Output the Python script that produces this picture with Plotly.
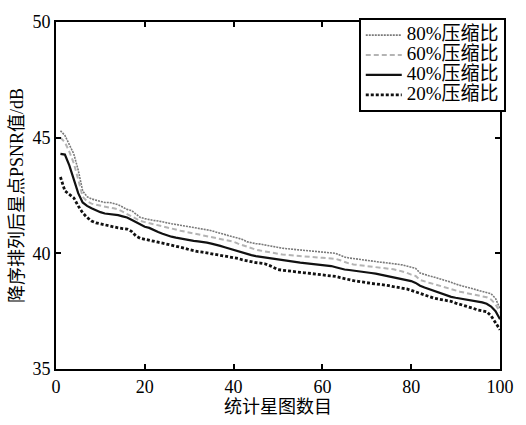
import plotly.graph_objects as go

# Star-map index (sorted in descending PSNR order)
star_idx = list(range(1, 101))

# Star-point PSNR (dB) for each compression ratio
psnr_80 = [45.3, 45.1, 44.7, 44.3, 43.6, 42.7, 42.45, 42.35, 42.3, 42.25,
           42.2, 42.2, 42.15, 42.1, 42.0, 41.9, 41.85, 41.7, 41.55, 41.5,
           41.45, 41.42, 41.4, 41.35, 41.3, 41.28, 41.25, 41.2, 41.18, 41.15,
           41.12, 41.1, 41.05, 41.02, 40.98, 40.92, 40.87, 40.82, 40.78, 40.72,
           40.66, 40.6, 40.5, 40.45, 40.42, 40.4, 40.36, 40.32, 40.28, 40.25,
           40.22, 40.2, 40.18, 40.16, 40.14, 40.12, 40.1, 40.08, 40.06, 40.05,
           40.03, 40.02, 40.0, 39.92, 39.84, 39.8, 39.77, 39.74, 39.72, 39.7,
           39.68, 39.65, 39.62, 39.6, 39.58, 39.56, 39.53, 39.5, 39.45, 39.4,
           39.35, 39.15, 39.08, 39.03, 38.98, 38.93, 38.88, 38.82, 38.75, 38.67,
           38.62, 38.57, 38.53, 38.48, 38.43, 38.38, 38.33, 38.25, 38.05, 37.6]

psnr_60 = [45.0, 44.8, 44.4, 43.9, 43.2, 42.45, 42.25, 42.15, 42.1, 42.05,
           42.0, 41.98, 41.95, 41.9, 41.8, 41.7, 41.62, 41.5, 41.4, 41.35,
           41.3, 41.25, 41.2, 41.15, 41.1, 41.06, 41.02, 40.98, 40.94, 40.9,
           40.86, 40.8, 40.76, 40.72, 40.68, 40.65, 40.62, 40.58, 40.55, 40.5,
           40.42, 40.35, 40.28, 40.2, 40.16, 40.12, 40.08, 40.04, 40.0, 39.97,
           39.95, 39.93, 39.91, 39.89, 39.87, 39.85, 39.84, 39.83, 39.82, 39.81,
           39.8, 39.78, 39.76, 39.7, 39.62, 39.56, 39.52, 39.5, 39.48, 39.46,
           39.44, 39.42, 39.4, 39.37, 39.34, 39.31, 39.27, 39.23, 39.16, 39.08,
           39.02, 38.85, 38.78, 38.73, 38.68, 38.62, 38.56, 38.5, 38.43, 38.38,
           38.34, 38.3, 38.26, 38.22, 38.18, 38.14, 38.1, 38.0, 37.8, 37.45]

psnr_40 = [44.3, 44.27, 43.8, 43.2, 42.6, 42.2, 42.05, 41.95, 41.85, 41.78,
           41.72, 41.7, 41.68, 41.65, 41.6, 41.55, 41.45, 41.35, 41.25, 41.15,
           41.1, 41.0, 40.92, 40.85, 40.78, 40.72, 40.68, 40.64, 40.6, 40.57,
           40.54, 40.52, 40.5, 40.46, 40.42, 40.38, 40.32, 40.26, 40.2, 40.15,
           40.1, 40.05, 39.98, 39.92, 39.88, 39.85, 39.82, 39.78, 39.75, 39.72,
           39.69, 39.66, 39.64, 39.62, 39.6, 39.58, 39.56, 39.54, 39.52, 39.5,
           39.48, 39.45, 39.4, 39.34, 39.3, 39.28, 39.26, 39.24, 39.2, 39.17,
           39.15, 39.12, 39.08, 39.04, 39.0, 38.96, 38.93, 38.9, 38.86, 38.8,
           38.72, 38.6, 38.52, 38.45, 38.38, 38.3, 38.23, 38.17, 38.12, 38.08,
           38.05, 38.02, 37.98, 37.95, 37.92, 37.88, 37.82, 37.7, 37.5, 37.15]

psnr_20 = [43.3, 42.7, 42.55, 42.4, 42.05, 41.75, 41.55, 41.4, 41.32, 41.27,
           41.22, 41.2, 41.15, 41.1, 41.07, 41.05, 40.95, 40.75, 40.65, 40.6,
           40.56, 40.52, 40.48, 40.44, 40.4, 40.35, 40.3, 40.26, 40.22, 40.16,
           40.1, 40.07, 40.05, 40.02, 39.98, 39.95, 39.92, 39.89, 39.86, 39.82,
           39.78, 39.72, 39.67, 39.62, 39.6, 39.58, 39.55, 39.48, 39.38, 39.3,
           39.27, 39.24, 39.22, 39.2, 39.18, 39.16, 39.14, 39.12, 39.1, 39.09,
           39.07, 39.04, 39.0, 38.95, 38.9, 38.86, 38.82, 38.79, 38.75, 38.72,
           38.7, 38.68, 38.66, 38.64, 38.6, 38.56, 38.53, 38.5, 38.46, 38.4,
           38.33, 38.25, 38.18, 38.12, 38.07, 38.03, 38.0, 37.98, 37.92, 37.85,
           37.8, 37.75, 37.7, 37.62, 37.55, 37.5, 37.48, 37.3, 37.0, 36.7]

series_names = ["80%压缩比", "60%压缩比", "40%压缩比", "20%压缩比"]
x_ticks = [0, 20, 40, 60, 80, 100]
y_ticks = [35, 40, 45, 50]

FONT = "'Liberation Serif', 'Times New Roman', 'Noto Sans CJK SC', serif"

styles = [
    dict(color="#7a7a7a", width=1.6, dash="2px,1px"),
    dict(color="#b4b4b4", width=2.0, dash="5px,3px"),
    dict(color="#111111", width=2.2, dash="solid"),
    dict(color="#111111", width=2.8, dash="3px,2px"),
]

fig = go.Figure()
for name, ys, st in zip(series_names, [psnr_80, psnr_60, psnr_40, psnr_20], styles):
    # legend rows are tightly packed, with a larger label inside each row
    fig.add_trace(go.Scatter(
        x=star_idx, y=ys, mode="lines", line=st,
        name=f'<span style="font-size:19px">{name}</span>'))

axis_common = dict(
    showline=True, linecolor="black", linewidth=2, mirror="ticks",
    ticks="inside", ticklen=5, tickwidth=2, tickcolor="black",
    showgrid=False, zeroline=False,
    tickfont=dict(family=FONT, size=18, color="black"),
)

fig.update_xaxes(range=[0, 100], tickvals=x_ticks,
                 title=dict(text="统计星图数目", standoff=4,
                            font=dict(family=FONT, size=18, color="black")),
                 **axis_common)
fig.update_yaxes(range=[35, 50], tickvals=y_ticks,
                 title=dict(text="降序排列后星点PSNR值/dB", standoff=4,
                            font=dict(family=FONT, size=18, color="black")),
                 **axis_common)

fig.update_layout(
    width=526, height=425,
    margin=dict(l=56, r=15, t=12, b=56),
    paper_bgcolor="white", plot_bgcolor="white",
    showlegend=True,
    legend=dict(x=1.013, y=1.011, xanchor="right", yanchor="top",
                bgcolor="white", bordercolor="black", borderwidth=2,
                font=dict(family=FONT, size=13, color="black"),
                tracegroupgap=0, itemwidth=36),
)

fig.write_html("out.html")
